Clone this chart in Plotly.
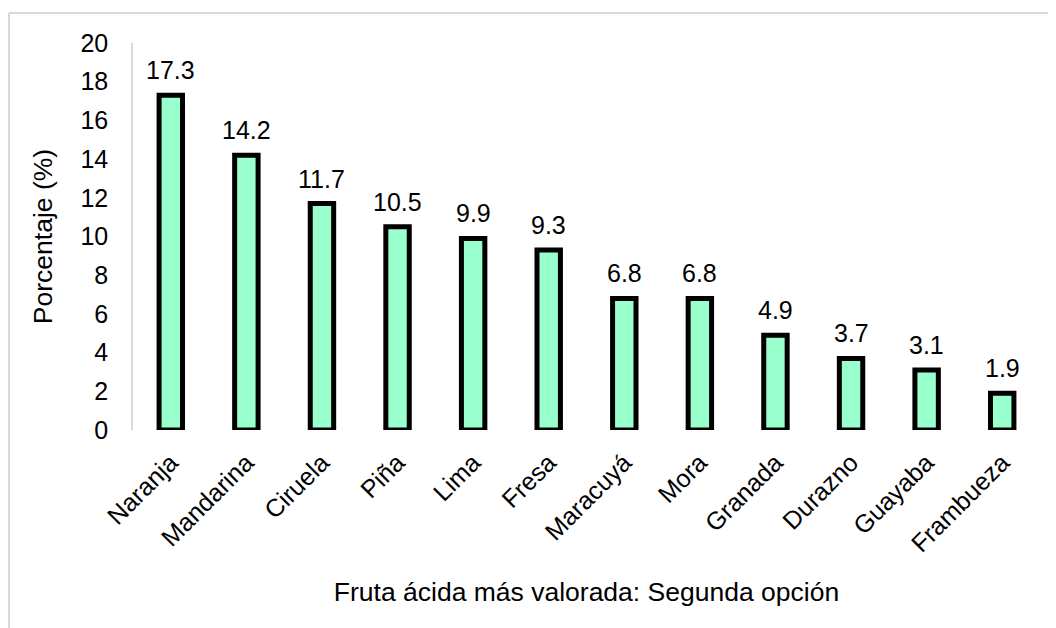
import plotly.graph_objects as go

frutas = ["Naranja", "Mandarina", "Ciruela", "Piña", "Lima", "Fresa",
          "Maracuyá", "Mora", "Granada", "Durazno", "Guayaba", "Frambueza"]
porcentaje = [17.3, 14.2, 11.7, 10.5, 9.9, 9.3, 6.8, 6.8, 4.9, 3.7, 3.1, 1.9]
y_ticks = list(range(0, 21, 2))

# la página tiene 8px de margen en el body, así que la figura se reduce
W, H = 1048, 620
ML, MR, MT, MB = 125, 16, 35, 198
pw, ph = W - ML - MR, H - MT - MB

fam = "Liberation Sans, Arial, sans-serif"
font = dict(family=fam, size=25, color="#000000")
font_title = dict(family=fam, size=26.5, color="#000000")

fig = go.Figure(go.Bar(
    x=frutas, y=porcentaje, width=0.31,
    marker=dict(color="#99FFCC", line=dict(color="#000000", width=5)),
))

# etiquetas de valor encima de cada barra
for f, v in zip(frutas, porcentaje):
    fig.add_annotation(x=f, y=v, text=f"{v:.1f}", showarrow=False,
                       yanchor="bottom", yshift=9, font=font)

# borde del recuadro (solo arriba e izquierda, imagen recortada)
def px_x(p):
    return (p - ML) / pw

def px_y(p):
    return (H - MB - p) / ph

border = dict(color="#d9d9d9", width=2)
fig.add_shape(type="line", xref="paper", yref="paper",
              x0=px_x(1), x1=px_x(W + 5), y0=px_y(5), y1=px_y(5), line=border)
fig.add_shape(type="line", xref="paper", yref="paper",
              x0=px_x(1), x1=px_x(1), y0=px_y(5), y1=px_y(H + 5), line=border)

fig.update_layout(
    width=W, height=H,
    margin=dict(l=ML, r=MR, t=MT, b=MB),
    paper_bgcolor="white", plot_bgcolor="white",
    font=font, showlegend=False,
    xaxis=dict(tickangle=-45, showline=False, showgrid=False, ticks="",
               ticklabelstandoff=12,
               title=dict(text="Fruta ácida más valorada: Segunda opción",
                          font=font_title, standoff=26),
               automargin=False),
    yaxis=dict(range=[0, 20], tickvals=y_ticks, showgrid=False, zeroline=False,
               showline=True, linecolor="#d9d9d9", linewidth=1.5, ticks="",
               ticklabelstandoff=18,
               title=dict(text="Porcentaje (%)", font=font_title, standoff=20),
               automargin=False),
)

fig.write_html("out.html")
